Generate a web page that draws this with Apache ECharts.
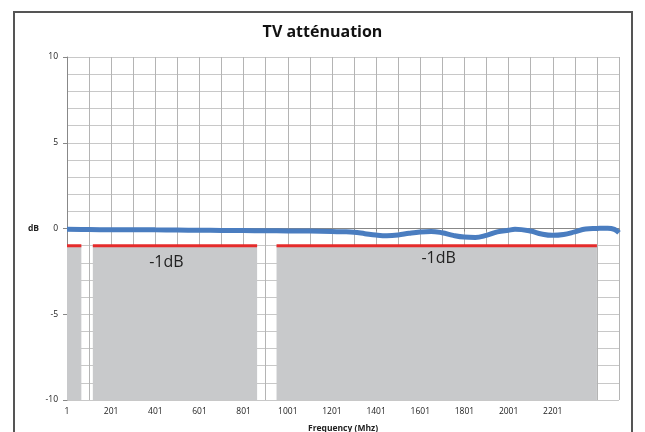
<!DOCTYPE html>
<html><head><meta charset="utf-8">
<script src="https://cdn.jsdelivr.net/npm/echarts@6/dist/echarts.min.js"></script>
<style>html,body{margin:0;padding:0;background:#fff}#c{width:645px;height:432px}</style>
</head><body><div id="c"></div>
<script>
// Measured attenuation (MHz, dB)
const freq = [1,100,200,300,400,500,600,700,800,900,1000,1100,1200,1250,1300,1350,1400,1450,1500,1550,1600,1650,1700,1750,1800,1850,1900,1950,2000,2030,2100,2150,2200,2250,2300,2350,2400,2450,2480,2501];
const atten = [-0.05,-0.06,-0.07,-0.07,-0.08,-0.09,-0.1,-0.11,-0.12,-0.13,-0.14,-0.15,-0.17,-0.19,-0.22,-0.3,-0.38,-0.42,-0.38,-0.28,-0.2,-0.17,-0.25,-0.4,-0.5,-0.52,-0.4,-0.2,-0.1,-0.05,-0.15,-0.32,-0.4,-0.35,-0.2,-0.03,0.0,0.02,-0.05,-0.25];
// Bands with -1 dB limit [start MHz, end MHz]
const bands = [[1,66],[118,862],[950,2401]];
const limit = -1;
const bandLabels = [null, {text:'-1dB', at:[451,-1.96]}, {text:'-1dB', at:[1684,-1.73]}];
const xTicks = [1,201,401,601,801,1001,1201,1401,1601,1801,2001,2201];

const FONT = "'Open Sans', 'Liberation Sans', sans-serif";
const chart = echarts.init(document.getElementById('c'), null, {renderer:'canvas'});

const bandSeries = bands.map((b,i) => {
  const s = {
    type:'line', name:'band'+i, data:[[b[0],limit],[b[1],limit]],
    symbol:'none', silent:true, z:2,
    lineStyle:{color:'#e52b2b', width:3},
    areaStyle:{color:'#c8c9cb', opacity:1, origin:'start'}
  };
  if (bandLabels[i]) {
    s.markPoint = {
      symbol:'circle', symbolSize:0, silent:true,
      data:[{coord:bandLabels[i].at, value:bandLabels[i].text}],
      label:{show:true, position:'inside', formatter:bandLabels[i].text, color:'#222', fontSize:16, fontFamily:FONT}
    };
  }
  return s;
});

chart.setOption({
  animation:false,
  backgroundColor:'#fff',
  title:{text:'TV atténuation', left:'center', top:19, textStyle:{fontFamily:FONT, fontWeight:'bold', fontSize:16, color:'#111'}},
  graphic:[{type:'rect', shape:{x:14, y:12, width:618, height:440}, style:{fill:'none', stroke:'#555', lineWidth:2}, z:-1}],
  grid:{left:67, right:26, top:57, bottom:32, outerBoundsMode:'none', containLabel:false},
  xAxis:{
    type:'value', min:1, max:2501, interval:100,
    name:'Frequency (Mhz)', nameLocation:'middle', nameGap:24,
    nameTextStyle:{fontFamily:FONT, fontWeight:'bold', fontSize:8.5, color:'#222'},
    axisLine:{lineStyle:{color:'#888'}},
    axisTick:{show:true, length:3, lineStyle:{color:'#888'}},
    axisLabel:{fontFamily:FONT, fontSize:8.5, color:'#222', margin:7,
      formatter:v => xTicks.includes(v) ? String(v) : ''},
    splitLine:{show:true, lineStyle:{color:'#b4b4b4', width:1}}
  },
  yAxis:{
    type:'value', min:-10, max:10, interval:5,
    name:'dB', nameLocation:'middle', nameGap:28, nameRotate:0,
    nameTextStyle:{fontFamily:FONT, fontWeight:'bold', fontSize:8.5, color:'#222'},
    axisLine:{show:true, lineStyle:{color:'#888'}},
    axisTick:{show:true, length:4, lineStyle:{color:'#888'}},
    axisLabel:{fontFamily:FONT, fontSize:8.5, color:'#222', margin:9},
    splitLine:{show:true, lineStyle:{color:'#c8c8c8'}},
    minorTick:{show:false, splitNumber:5},
    minorSplitLine:{show:true, lineStyle:{color:'#c8c8c8'}}
  },
  series:[...bandSeries, {
    type:'line', name:'TV', data:freq.map((f,i)=>[f,atten[i]]),
    symbol:'none', smooth:0.4, z:5,
    lineStyle:{color:'#4a7dc0', width:5}
  }]
});
</script></body></html>
